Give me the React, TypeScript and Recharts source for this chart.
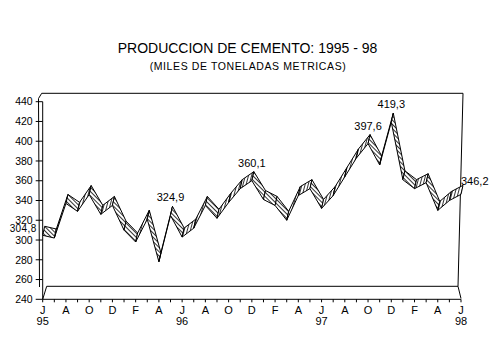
import React from "react";
import { ComposedChart, Line, XAxis, YAxis, Customized } from "recharts";

// Jun 95 .. Jun 98, Spanish month initials
const monthInitials = [
  "J", "J", "A", "S", "O", "N", "D",
  "E", "F", "M", "A", "M", "J", "J", "A", "S", "O", "N", "D",
  "E", "F", "M", "A", "M", "J", "J", "A", "S", "O", "N", "D",
  "E", "F", "M", "A", "M", "J",
];
const yearLabels = ["95", "96", "97", "98"];
const yearIndex = [0, 12, 24, 36];

// thousands of metric tonnes
const production = [
  304.8, 302, 337, 329, 346, 326, 335,
  310, 298, 321, 278, 324.9, 303, 312, 335, 322, 338, 352, 360.1,
  341, 335, 320, 345, 352, 332, 345, 364, 383, 397.6, 376, 419.3,
  361, 352, 358, 330, 340, 346.2,
];
const labelled = [0, 11, 18, 28, 30, 36];

const yTicks = [240, 260, 280, 300, 320, 340, 360, 380, 400, 420, 440];

const data = production.map((v, i) => ({ i, v, m: monthInitials[i] }));

const FONT = "'Liberation Sans', Arial, sans-serif";
const DEPTH_X = 2;
const DEPTH_Y = -9;

const fmt = (v: number) => v.toFixed(1).replace(".", ",");

function Ribbon(props: any) {
  const { index, points } = props;
  if (index !== 0 || !points) return <g key={`r-${index}`} />;
  const faces = [];
  for (let i = 0; i < points.length - 1; i++) {
    const a = points[i];
    const b = points[i + 1];
    const rising = b.y < a.y;
    const d = `M${a.x},${a.y} L${b.x},${b.y} L${b.x + DEPTH_X},${b.y + DEPTH_Y} L${a.x + DEPTH_X},${a.y + DEPTH_Y} Z`;
    faces.push(
      <path
        key={i}
        d={d}
        fill={rising ? "url(#hatchUp)" : "url(#hatchDown)"}
        stroke="#000"
        strokeWidth={1}
        strokeLinejoin="round"
      />
    );
  }
  const labels = labelled.map((k) => {
    const p = points[k];
    const txt = fmt(production[k]);
    if (k === 0)
      return (
        <text key={k} x={p.x - 6} y={p.y - 3} textAnchor="end" fontSize={10} letterSpacing={0.4} fontFamily={FONT}>
          {txt}
        </text>
      );
    if (k === points.length - 1)
      return (
        <text key={k} x={p.x} y={p.y - 9} textAnchor="start" fontSize={11} fontFamily={FONT}>
          {txt}
        </text>
      );
    return (
      <text key={k} x={p.x} y={p.y - 14} textAnchor="middle" fontSize={11} fontFamily={FONT}>
        {txt}
      </text>
    );
  });
  return (
    <g key="ribbon">
      <defs>
        <pattern id="hatchDown" width="3" height="3" patternUnits="userSpaceOnUse" patternTransform="rotate(-45)">
          <rect width="3" height="3" fill="#fff" />
          <line x1="0.5" y1="0" x2="0.5" y2="3" stroke="#000" strokeWidth="0.8" />
        </pattern>
        <pattern id="hatchUp" width="3" height="3" patternUnits="userSpaceOnUse" patternTransform="rotate(15)">
          <rect width="3" height="3" fill="#fff" />
          <line x1="0.5" y1="0" x2="0.5" y2="3" stroke="#000" strokeWidth="0.8" />
        </pattern>
      </defs>
      {faces}
      {labels}
    </g>
  );
}

function MonthTick(props: any) {
  const { x, y, payload } = props;
  const i = payload.value as number;
  const yp = yearIndex.indexOf(i);
  return (
    <g>
      {i % 2 === 0 && (
        <text x={x} y={y + 9.6} textAnchor="middle" fontSize={11} fontFamily={FONT} fill="#000">
          {monthInitials[i]}
        </text>
      )}
      {yp >= 0 && (
        <text x={x} y={y + 20.7} textAnchor="middle" fontSize={11} fontFamily={FONT} fill="#000">
          {yearLabels[yp]}
        </text>
      )}
    </g>
  );
}

// titles and the 3D box walls
function Decor() {
  return (
    <g fontFamily={FONT} fill="none" stroke="#000" strokeWidth={1}>
      <text x={247.5} y={52.7} textAnchor="middle" fontSize={14} fill="#000" stroke="none">
        PRODUCCION DE CEMENTO: 1995 - 98
      </text>
      <text x={248} y={69.5} textAnchor="middle" fontSize={10.5} letterSpacing={0.6} fill="#000" stroke="none">
        (MILES DE TONELADAS METRICAS)
      </text>
      <polyline points="39.5,287 38.5,98.5 41.7,93.3 463,93.3 458,286.3 461,298.5" />
      <line x1={42.7} y1={299.3} x2={46.7} y2={286.3} />
      <line x1={46.7} y1={286.3} x2={458} y2={286.3} />
    </g>
  );
}

export default function App() {
  return (
    <div style={{ position: "absolute", left: 0, top: 0, width: 495, height: 355, background: "#fff" }}>
      <ComposedChart
        width={495}
        height={355}
        data={data}
        margin={{ top: 101.7, right: 34, bottom: 25.7, left: 0 }}
      >
        <XAxis
          dataKey="i"
          type="number"
          domain={[0, 36]}
          ticks={data.map((d) => d.i)}
          interval={0}
          height={30}
          tickSize={3}
          tickMargin={2}
          axisLine={{ stroke: "#000" }}
          tickLine={{ stroke: "#000" }}
          tick={<MonthTick />}
        />
        <YAxis
          type="number"
          domain={[240, 440]}
          ticks={yTicks}
          interval={0}
          width={42.7}
          tickSize={7}
          tickMargin={3}
          axisLine={{ stroke: "#000" }}
          tickLine={{ stroke: "#000" }}
          tick={{ fontSize: 10.5, fill: "#000", fontFamily: FONT }}
        />
        <Customized component={<Decor />} />
        <Line
          dataKey="v"
          stroke="none"
          dot={Ribbon}
          activeDot={false}
          isAnimationActive={false}
        />
      </ComposedChart>
    </div>
  );
}
